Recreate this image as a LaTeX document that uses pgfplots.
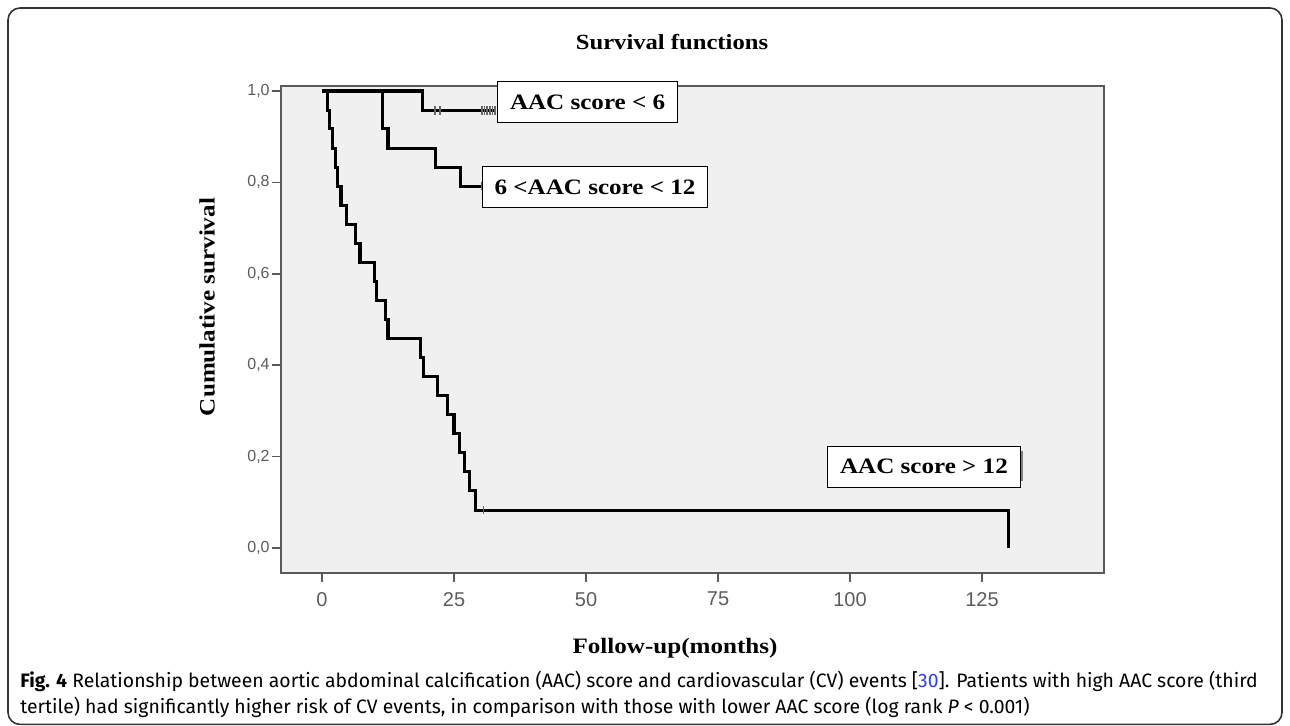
\documentclass[border=0pt]{standalone}
\usepackage{fontspec}
\setmainfont{Liberation Serif}
\setsansfont{Liberation Sans}
\newfontfamily\capfont{Fira Sans}
\newfontfamily\wideserif[FakeStretch=1.14]{Liberation Serif}
\usepackage{pgfplots}
\pgfplotsset{compat=1.18}
\definecolor{plotbg}{HTML}{F0F0F0}
\definecolor{axgray}{HTML}{5A5A5A}
\definecolor{ticklab}{HTML}{5C5C5C}
\definecolor{refblue}{HTML}{2E3EE8}
\begin{document}
\begin{tikzpicture}
\path[use as bounding box] (0,0) rectangle (645pt,363pt);
\draw[line width=0.8pt, color=black!80, rounded corners=6pt] (4pt,0.8pt) rectangle (641pt,359pt);
\begin{axis}[
  at={(140.5pt,76.5pt)}, anchor=south west,
  scale only axis, width=411.5pt, height=243.5pt,
  xmin=-7.77, xmax=148.1, ymin=-0.0547, ymax=1.011,
  axis background/.style={fill=plotbg},
  axis line style={axgray, line width=1pt},
  xtick={0,25,50,75,100,125},
  xticklabels={0,25,50,75,100,125},
  ytick={0,0.2,0.4,0.6,0.8,1},
  yticklabels={{0,0},{0,2},{0,4},{0,6},{0,8},{1,0}},
  tick align=outside, xtick pos=bottom, ytick pos=left,
  major tick length=4.5pt,
  tick style={axgray, line width=0.8pt},
  yticklabel style={font=\sffamily\fontsize{8}{9}\selectfont, text=ticklab, inner sep=1pt},
  xticklabel style={font=\sffamily\fontsize{10}{11}\selectfont, text=ticklab, yshift=-1.5pt},
  clip=false,
]
% AAC score > 12
\addplot[const plot, black, line width=1.55pt] coordinates {
(0,1) (1.0,0.958) (1.5,0.917) (2.0,0.875) (2.6,0.833) (3.0,0.792) (3.6,0.75)
(4.7,0.708) (6.4,0.667) (7.2,0.625) (10.0,0.583) (10.4,0.542) (12.1,0.5)
(12.5,0.458) (18.7,0.417) (19.3,0.375) (21.9,0.333) (23.8,0.292) (25.0,0.25)
(26.0,0.208) (27.0,0.167) (28.0,0.125) (29.0,0.083) (130,0)
};
% 6 < AAC score < 12
\addplot[const plot, black, line width=1.55pt] coordinates {
(0,1) (11.5,0.917) (12.5,0.875) (21.5,0.833) (26.3,0.792) (30.2,0.792)
};
% AAC score < 6
\addplot[const plot, black, line width=1.55pt] coordinates {
(0,1) (19.1,0.958) (33,0.958)
};
% censored marks
\addplot[only marks, mark=|, mark size=2.2pt, mark options={line width=0.8pt, draw=black!60}] coordinates {
(21.4,0.958) (22.3,0.958) (30.3,0.958) (30.8,0.958) (31.3,0.958) (31.8,0.958) (32.3,0.958) (32.8,0.958)
(30.2,0.792) (30.6,0.083)
};
\draw[gray, line width=1.2pt] (axis cs:132.5,0.212) -- (axis cs:132.5,0.146);
\node[draw=black, line width=0.5pt, fill=white, font=\wideserif\bfseries\fontsize{11}{13}\selectfont, inner xsep=6.25pt, minimum height=20.5pt] at (axis cs:50.3,0.975) {AAC score < 6};
\node[draw=black, line width=0.5pt, fill=white, font=\wideserif\bfseries\fontsize{11}{13}\selectfont, inner xsep=6.25pt, minimum height=20.5pt] at (axis cs:51.7,0.790) {6 <AAC score < 12};
\node[draw=black, line width=0.5pt, fill=white, font=\wideserif\bfseries\fontsize{11}{13}\selectfont, inner xsep=6.25pt, minimum height=20.5pt] at (axis cs:114.0,0.178) {AAC score > 12};
\end{axis}
\node[font=\wideserif\bfseries\fontsize{10.8}{12}\selectfont] at (336pt,342pt) {Survival functions};
\node[rotate=90, font=\wideserif\bfseries\fontsize{11}{13}\selectfont] at (103.5pt,209.5pt) {Cumulative survival};
\node[font=\wideserif\bfseries\fontsize{11}{13}\selectfont] at (337.5pt,39pt) {Follow-up(months)};
\node[anchor=base west, font=\capfont\fontsize{9.7}{11}\selectfont, inner sep=0pt] at (10pt,19pt) {\textbf{Fig. 4} Relationship between aortic abdominal calcification (AAC) score and cardiovascular (CV) events [{\color{refblue}30}]. Patients with high AAC score (third};
\node[anchor=base west, font=\capfont\fontsize{9.7}{11}\selectfont, inner sep=0pt] at (10pt,6pt) {tertile) had significantly higher risk of CV events, in comparison with those with lower AAC score (log rank \textit{P} < 0.001)};
\end{tikzpicture}
\end{document}
